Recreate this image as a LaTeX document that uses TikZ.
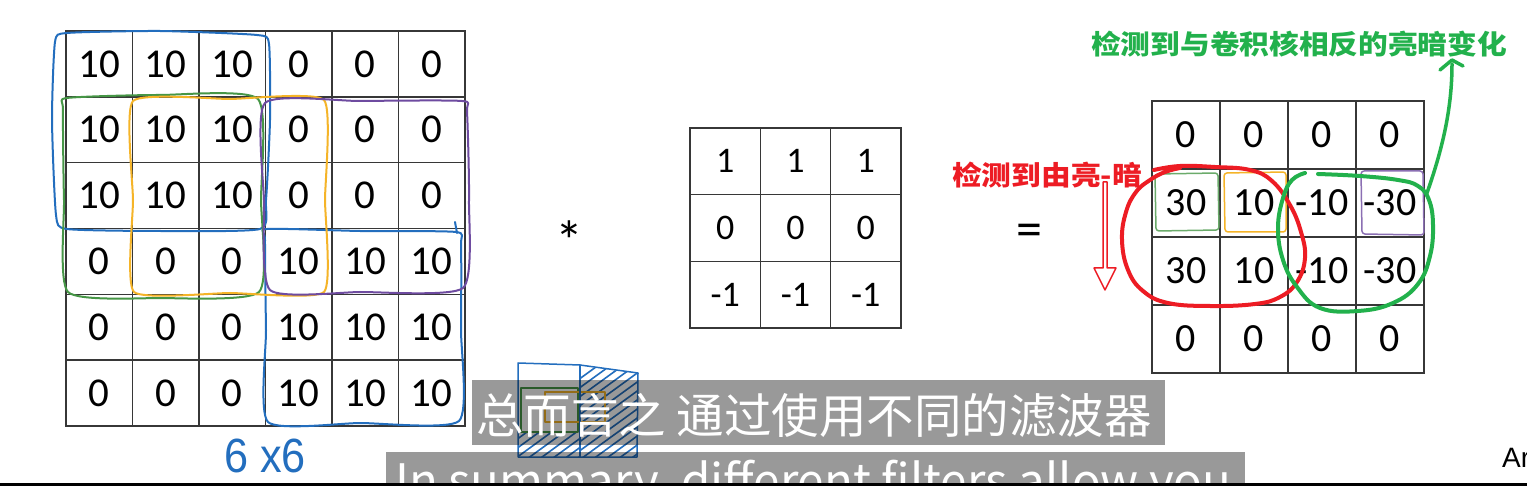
\documentclass[tikz,border=0pt]{standalone}
\usepackage{fontspec}
\setmainfont{Carlito}
\newfontfamily\cjk{Noto Sans CJK SC}
\newfontfamily\arial{Liberation Sans}
\definecolor{pred}{RGB}{237,28,36}
\definecolor{pgreen}{RGB}{34,177,76}
\definecolor{penblue}{RGB}{35,110,190}
\definecolor{pengreen}{RGB}{70,150,70}
\definecolor{penorange}{RGB}{245,180,40}
\definecolor{penpurple}{RGB}{110,75,160}
\definecolor{gridc}{RGB}{55,55,55}
\tikzset{
  cellbase/.style={draw=gridc, line width=1.5pt, inner sep=0pt, text=black},
  bigcell/.style={cellbase, minimum width=66.5pt, minimum height=65.83pt, font=\fontsize{41}{41}\selectfont},
  kercell/.style={cellbase, minimum width=70.33pt, minimum height=66.67pt, font=\fontsize{36}{36}\selectfont},
  outcell/.style={cellbase, minimum width=68pt, minimum height=68pt, font=\fontsize{40}{40}\selectfont},
  pen/.style={line width=2pt, line cap=round, line join=round},
  thinpen/.style={line width=1.5pt, line cap=round, line join=round},
  marker/.style={line width=4pt, line cap=round, line join=round},
  cjklabel/.style={inner sep=0pt, anchor=west, font=\cjk\bfseries\fontsize{27}{27}\selectfont},
}
\begin{document}
\begin{tikzpicture}[x=1pt,y=-1pt]
\useasboundingbox (0,0) rectangle (1527,486);
\fill[white] (0,0) rectangle (1527,486);

% 6x6 input
\foreach \rowvals [count=\r from 0] in {{10,10,10,0,0,0},{10,10,10,0,0,0},{10,10,10,0,0,0},{0,0,0,10,10,10},{0,0,0,10,10,10},{0,0,0,10,10,10}}{
  \foreach \v [count=\c from 0] in \rowvals {
    \node[bigcell] (b-\r-\c) at ({99.25+66.5*\c},{63.92+65.83*\r}) {\v};
  }
}
% 3x3 kernel
\foreach \rowvals [count=\r from 0] in {{1,1,1},{0,0,0},{-1,-1,-1}}{
  \foreach \v [count=\c from 0] in \rowvals {
    \node[kercell] (k-\r-\c) at ({725.17+70.33*\c},{161.33+66.67*\r}) {\v};
  }
}
% 4x4 output
\foreach \rowvals [count=\r from 0] in {{0,0,0,0},{30,10,-10,-30},{30,10,-10,-30},{0,0,0,0}}{
  \foreach \v [count=\c from 0] in \rowvals {
    \node[outcell] (o-\r-\c) at ({1186+68*\c},{135+68*\r}) {\v};
  }
}
\node[anchor=base, inner sep=0pt, font=\fontsize{56}{56}\selectfont] (star) at (569,261) {*};
\node[anchor=base, inner sep=0pt, font=\fontsize{52}{52}\selectfont] (eq) at (1029,247) {=};

% hand-drawn marks on the input
\draw[pen, penblue] plot[smooth cycle, tension=0.35] coordinates {(67,33) (160,31) (257,35) (269,44) (270,120) (266,200) (260,229) (160,231) (67,229) (56,215) (52,120) (55,42)};
\draw[pen, penblue] plot[smooth cycle, tension=0.35] coordinates {(267,229) (360,231) (456,232) (461,245) (461,330) (459,421) (360,423) (268,422) (266,330) (265,240)};
\draw[pen, penblue] (455,222) -- (457,233);
\draw[pen, pengreen] plot[smooth cycle, tension=0.35] coordinates {(67,98) (160,95) (258,99) (261,200) (259,292) (160,298) (68,292) (64,200) (63,110)};
\draw[pen, penorange] plot[smooth cycle, tension=0.3] coordinates {(133,101) (230,99) (324,100) (325,200) (324,292) (230,293) (134,292) (133,200)};
\draw[pen, penpurple] plot[smooth cycle, tension=0.35] coordinates {(265,103) (360,101) (462,101) (467,112) (469,200) (463,288) (360,292) (270,290) (264,200)};

% small boxes on the output
\draw[thinpen, pengreen!80, rounded corners=3pt] (1155,174) -- (1218,173) -- (1219,230) -- (1156,231) -- cycle;
\draw[thinpen, penorange, rounded corners=3pt] (1224,173) -- (1286,172) -- (1286,232) -- (1225,232) -- cycle;
\draw[thinpen, penpurple!80, rounded corners=3pt] (1361,171) -- (1423,171) -- (1424,235) -- (1362,234) -- cycle;

% red loop and hollow arrow
\draw[marker, pred] plot[smooth, tension=0.7] coordinates {(1154,170) (1180,166) (1215,167) (1250,170) (1272,181) (1290,205) (1301,232) (1305,258) (1297,282) (1280,297) (1255,304) (1210,306) (1168,303) (1143,291) (1128,270) (1122,240) (1126,212) (1136,192) (1150,180) (1165,172) (1180,168)};
\coordinate (rtop) at (1105,182);
\draw[thinpen, pred] (1103,182) -- (1103,268) -- (1094,268) -- (1105,290) -- (1116,268) -- (1107,268) -- (1107,182) -- cycle;
\node[cjklabel, text=pred] (redlbl) at (952,175) {\scalebox{1.1}[1]{检测到由亮-暗}};

% green loop and arrow
\draw[marker, pgreen] plot[smooth, tension=0.7] coordinates {(1305,173) (1292,180) (1283,198) (1278,228) (1283,260) (1297,287) (1320,308) (1358,311) (1393,303) (1418,284) (1430,256) (1433,225) (1429,200) (1418,186) (1398,180) (1360,176) (1318,174)};
\coordinate (gstart) at (1427,193);
\coordinate (gend) at (1452,64);
\draw[line width=3.5pt, pgreen, line cap=round] (gstart) .. controls (1442,150) and (1452,110) .. (gend);
\draw[line width=3.5pt, pgreen, line cap=round, line join=round] (1440,70) -- (1452,60) -- (1463,66);
\node[cjklabel, text=pgreen] (greenlbl) at (1091,44) {\scalebox{1.1}[1]{检测到与卷积核相反的亮暗变化}};

% 6x6 label
\node[inner sep=0pt, text=penblue, font=\arial\fontsize{48}{48}\selectfont] (size) at (265,456) {\scalebox{0.9}[1]{6 x6}};

% small sketch
\begin{scope}
\clip (580,366) -- (638,373) -- (638,457) -- (580,457) -- cycle;
\foreach \k in {0,...,16} \draw[penblue, line width=1.6pt] (578,{380+9*\k}) -- (640,{335+9*\k});
\end{scope}
\begin{scope}
\clip (518,433) rectangle (580,457);
\foreach \k in {0,...,10} \draw[penblue, line width=1.6pt] (516,{440+9*\k}) -- (582,{392+9*\k});
\end{scope}
\draw[thinpen, pengreen] (521,388) rectangle (578,432);
\draw[thinpen, penorange] (545,392) rectangle (605,422);
\draw[thinpen, penblue] (518,363) -- (580,365) -- (638,373) -- (637,457) -- (518,457) -- cycle;
\draw[thinpen, penblue] (580,365) -- (580,457);

% subtitles
\fill[black, opacity=0.4] (472,380) rectangle (1165,445);
\node[anchor=west, inner sep=0pt, text=white, font=\cjk\fontsize{47.5}{47.5}\selectfont] (sub1) at (476,415) {总而言之 通过使用不同的滤波器};
\begin{scope}
\clip (0,0) rectangle (1527,483);
\fill[black, opacity=0.4] (386,452) rectangle (1245,490);
\node[anchor=base west, inner sep=0pt, text=white, font=\cjk\fontsize{47.5}{47.5}\selectfont] (sub2) at (395,498) {In summary, different filters allow you};
\end{scope}
\node[anchor=base west, inner sep=0pt, font=\arial\fontsize{28}{28}\selectfont] (ar) at (1502,467) {Ar};
\fill[black] (0,483) rectangle (1527,486);
\end{tikzpicture}
\end{document}
